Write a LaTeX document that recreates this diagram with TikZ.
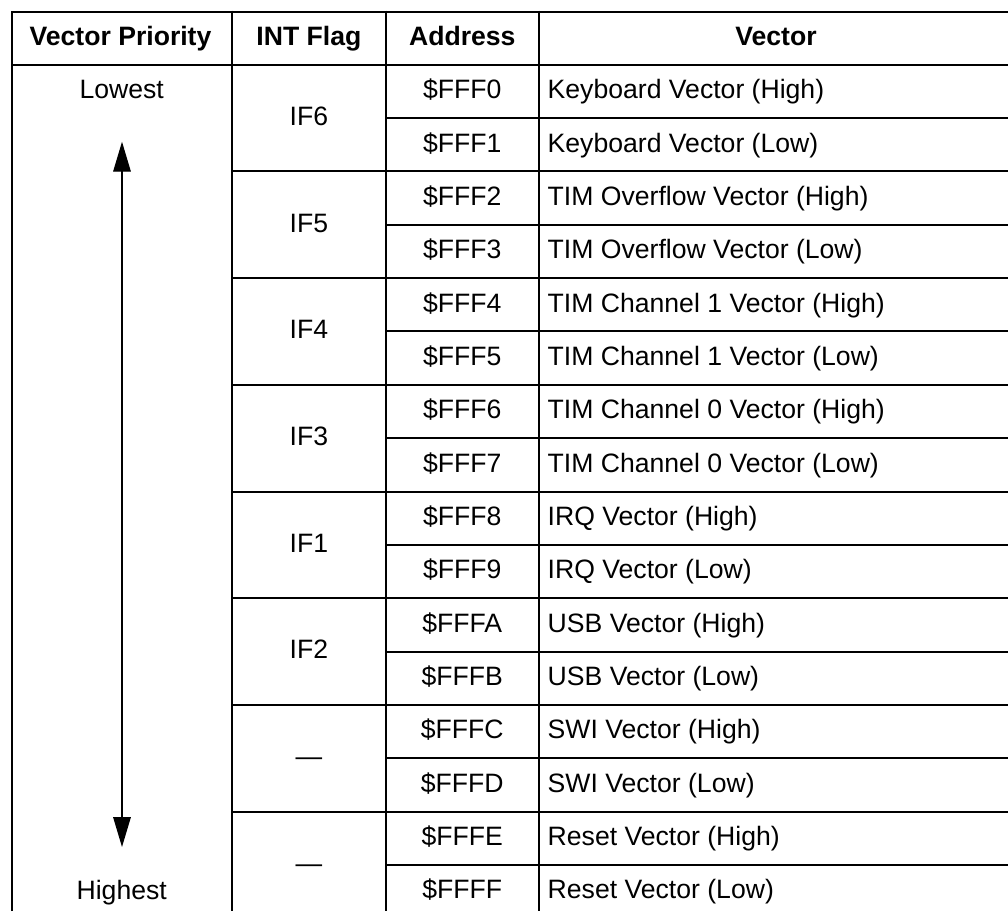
\documentclass[tikz,border=0pt]{standalone}
\usepackage{fontspec}
\setmainfont{Liberation Sans}
\usetikzlibrary{arrows.meta}
\begin{document}
\begin{tikzpicture}[x=1pt,y=-1pt,
  tab/.style={line width=2pt},
  txt/.style={inner sep=0pt, font=\fontsize{26.6}{31}\selectfont},
  hdr/.style={inner sep=0pt, font=\fontsize{26.6}{31}\selectfont\bfseries},
  prio/.style={line width=1.3pt, {Triangle[length=30pt,width=17.6pt]}-{Triangle[length=30pt,width=17.6pt]}}]
\useasboundingbox (0,0) rectangle (1008,911);
% table rules
\draw[tab] (11.5,911) -- (11.5,12) -- (1008,12);
\draw[tab] (11.5,64.7) -- (1008,64.7);
\foreach \x in {232,385.7,539} \draw[tab] (\x,10.5) -- (\x,911);
\foreach \k in {2,4,...,14} {
  \pgfmathsetmacro\yy{64.7+53.35*\k}
  \draw[tab] (232,\yy) -- (1008,\yy);
}
\foreach \k in {1,3,...,15} {
  \pgfmathsetmacro\yy{64.7+53.35*\k}
  \draw[tab] (385.7,\yy) -- (1008,\yy);
}
% header
\node[hdr, anchor=base] (h1) at (120.5,45.3) {Vector Priority};
\node[hdr, anchor=base] (h2) at (308.9,45.3) {INT Flag};
\node[hdr, anchor=base] (h3) at (462.3,45.3) {Address};
\node[hdr, anchor=base] (h4) at (776,45.3) {Vector};
% rows
\foreach \a/\v [count=\i from 0] in {
  FFF0/Keyboard Vector (High), FFF1/Keyboard Vector (Low),
  FFF2/TIM Overflow Vector (High), FFF3/TIM Overflow Vector (Low),
  FFF4/TIM Channel 1 Vector (High), FFF5/TIM Channel 1 Vector (Low),
  FFF6/TIM Channel 0 Vector (High), FFF7/TIM Channel 0 Vector (Low),
  FFF8/IRQ Vector (High), FFF9/IRQ Vector (Low),
  FFFA/USB Vector (High), FFFB/USB Vector (Low),
  FFFC/SWI Vector (High), FFFD/SWI Vector (Low),
  FFFE/Reset Vector (High), FFFF/Reset Vector (Low)} {
  \pgfmathsetmacro\yb{64.7+53.35*(\i+0.5)+7.3}
  \node[txt, anchor=base] (a\i) at (462.3,\yb) {\$\a};
  \node[txt, anchor=base west] (v\i) at (547.5,\yb) {\v};
}
% flags
\foreach \f [count=\g from 0] in {IF6,IF5,IF4,IF3,IF1,IF2,—,—} {
  \pgfmathsetmacro\yb{64.7+53.35*(2*\g+1)+7.3}
  \node[txt, anchor=base] (f\g) at (308.9,\yb) {\f};
}
% priority
\node[txt, anchor=base] (low) at (121.7,98.9) {Lowest};
\node[txt, anchor=base] (high) at (121.7,899.2) {Highest};
\coordinate (arrtop) at (122,141.7);
\coordinate (arrbot) at (122,847);
\draw[prio] (arrtop) -- (arrbot);
\end{tikzpicture}
\end{document}
